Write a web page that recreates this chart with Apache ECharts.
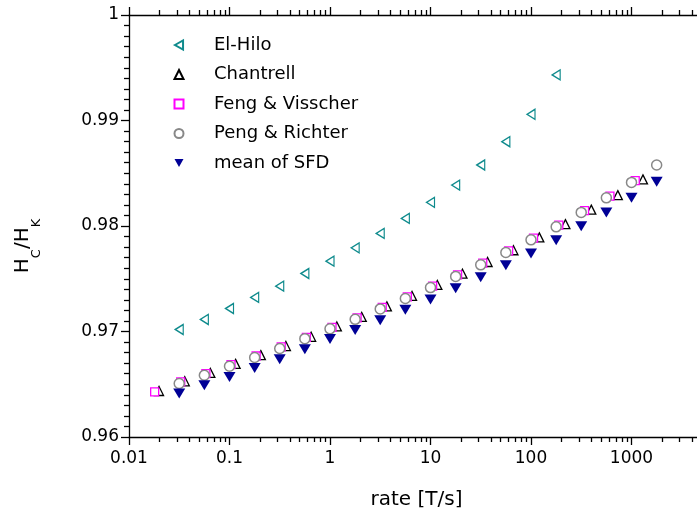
<!DOCTYPE html>
<html>
<head>
<meta charset="utf-8">
<script src="https://cdn.jsdelivr.net/npm/echarts@6/dist/echarts.min.js"></script>
<style>
  html, body { margin: 0; padding: 0; background: #fff; }
  #chart { width: 697px; height: 519px; }
</style>
</head>
<body>
<div id="chart"></div>
<script>
// ---- data: coercivity ratio Hc/Hk versus field sweep rate ----
const elHiloRate = [0.0316, 0.0562, 0.1, 0.178, 0.316, 0.562, 1, 1.78, 3.16, 5.62,
                    10, 17.8, 31.6, 56.2, 100, 178];
const elHiloHc   = [0.97019, 0.97114, 0.97218, 0.97323, 0.97430, 0.97550, 0.97667, 0.97793,
                    0.97930, 0.98072, 0.98224, 0.98388, 0.98578, 0.98799, 0.99059, 0.99432];

const chantrellRate = [0.0199, 0.0359, 0.0645, 0.115, 0.205, 0.364, 0.649, 1.17, 2.07, 3.68,
                       6.55, 11.7, 20.8, 37.0, 66.9, 121, 220, 398, 731, 1300];
const chantrellHc   = [0.96436, 0.96528, 0.96607, 0.96693, 0.96776, 0.96862, 0.96950, 0.97048,
                       0.97138, 0.97238, 0.97337, 0.97441, 0.97548, 0.97659, 0.97770, 0.97892,
                       0.98018, 0.98155, 0.98293, 0.98442];

const fengRate = [0.0180, 0.0327, 0.0582, 0.1035, 0.184, 0.327, 0.582, 1.047, 1.86, 3.31,
                  5.88, 10.5, 18.6, 33.1, 59.9, 106, 189, 341, 610, 1089];
const fengHc   = [0.96427, 0.96522, 0.96600, 0.96686, 0.96768, 0.96854, 0.96945, 0.97040,
                  0.97130, 0.97229, 0.97328, 0.97431, 0.97537, 0.97648, 0.97765, 0.97885,
                  0.98009, 0.98146, 0.98284, 0.98430];

const pengRate = [0.0316, 0.0562, 0.1, 0.178, 0.316, 0.562, 1, 1.78, 3.16, 5.62,
                  10, 17.8, 31.6, 56.2, 100, 178, 316, 562, 1000, 1780];
const pengHc   = [0.96507, 0.96585, 0.96671, 0.96753, 0.96839, 0.96932, 0.97025, 0.97115,
                  0.97214, 0.97313, 0.97416, 0.97522, 0.97632, 0.97749, 0.97869, 0.97992,
                  0.98129, 0.98267, 0.98413, 0.98578];

const sfdRate = [0.0316, 0.0562, 0.1, 0.178, 0.316, 0.562, 1, 1.78, 3.16, 5.62,
                 10, 17.8, 31.6, 56.2, 100, 178, 316, 562, 1000, 1780];
const sfdHc   = [0.96412, 0.96490, 0.96569, 0.96655, 0.96737, 0.96832, 0.96930, 0.97015,
                 0.97107, 0.97205, 0.97304, 0.97409, 0.97515, 0.97629, 0.97740, 0.97866,
                 0.97997, 0.98129, 0.98267, 0.98419];

const seriesNames = ['El-Hilo', 'Chantrell', 'Feng & Visscher', 'Peng & Richter', 'mean of SFD'];

// axis ticks
const xDecades = [0.01, 0.1, 1, 10, 100, 1000, 10000];
const yTicks = [0.96, 0.97, 0.98, 0.99, 1];

// ---- styling ----
const FONT = 'DejaVu Sans';
const INK = '#000';
const LW = 1.3;

function pairs(xs, ys) { return xs.map((x, i) => [x, ys[i]]); }

// minor tick positions (2..9 within each decade), expressed in log10 space
const logMin = Math.log10(xDecades[0]);
const logMax = Math.log10(xDecades[xDecades.length - 1]);
const minorX = [];
for (let i = 0; i < xDecades.length - 1; i++) {
  for (let m = 2; m <= 9; m++) minorX.push(Math.log10(m * xDecades[i]));
}

const lineStyle = { color: INK, width: LW };

const logAxis = {
  type: 'log', logBase: 10,
  min: xDecades[0], max: xDecades[xDecades.length - 1], splitNumber: 6,
  axisLine: { show: true, onZero: false, lineStyle },
  axisTick: { show: true, length: 8, lineStyle },
  splitLine: { show: false }
};
const minorAxis = {
  type: 'value', min: logMin, max: logMax,
  axisLine: { show: false, onZero: false },
  axisTick: { show: true, length: 5, customValues: minorX, lineStyle },
  axisLabel: { show: false },
  splitLine: { show: false }
};

// legend glyphs for the rotated triangles
const ICON_LEFT = 'path://M0,5L9,0L9,10Z';
const ICON_DOWN = 'path://M0,0L10,0L5,9Z';

const chart = echarts.init(document.getElementById('chart'), null, { renderer: 'canvas' });

chart.setOption({
  animation: false,
  backgroundColor: '#fff',
  grid: { left: 129, top: 15, bottom: 82, right: -35, containLabel: false, outerBoundsMode: 'none' },
  legend: {
    orient: 'vertical', left: 173.5, top: 35, padding: 0,
    itemWidth: 9, itemHeight: 9, itemGap: 9.5,
    selectedMode: false,
    data: [
      { name: seriesNames[0], icon: ICON_LEFT },
      { name: seriesNames[1] },
      { name: seriesNames[2] },
      { name: seriesNames[3] },
      { name: seriesNames[4], icon: ICON_DOWN }
    ],
    textStyle: { fontFamily: FONT, fontSize: 18, color: INK, lineHeight: 20, padding: [0, 0, 0, 25.5] }
  },
  xAxis: [
    Object.assign({}, logAxis, {
      position: 'bottom',
      axisLabel: {
        show: true, fontFamily: FONT, fontSize: 17, color: INK, margin: 13,
        formatter: v => String(+Number(v).toPrecision(6))
      },
      name: 'rate [T/s]', nameLocation: 'middle', nameGap: 53,
      nameTextStyle: { fontFamily: FONT, fontSize: 20, color: INK, padding: [0, 28, 0, 0] }
    }),
    Object.assign({}, minorAxis, { position: 'bottom' }),
    Object.assign({}, logAxis, { position: 'top', axisLabel: { show: false } }),
    Object.assign({}, minorAxis, { position: 'top' })
  ],
  yAxis: {
    type: 'value', position: 'left',
    min: yTicks[0], max: yTicks[yTicks.length - 1], interval: 0.01,
    axisLine: { show: true, onZero: false, lineStyle },
    axisTick: { show: true, length: 8, lineStyle },
    minorTick: { show: true, splitNumber: 10, length: 5, lineStyle },
    splitLine: { show: false },
    minorSplitLine: { show: false },
    axisLabel: { fontFamily: FONT, fontSize: 17, color: INK, margin: 10 },
    name: '{m|H}{s|C}{m|/H}{s|K}', nameLocation: 'middle', nameGap: 68,
    nameTextStyle: {
      fontFamily: FONT, fontSize: 20, color: INK, padding: [0, 40, 0, 0],
      rich: {
        m: { fontFamily: FONT, fontSize: 20, lineHeight: 20, verticalAlign: 'top', color: INK },
        s: { fontFamily: FONT, fontSize: 13, lineHeight: 48, color: INK }
      }
    }
  },
  series: [
    {
      name: seriesNames[0], type: 'scatter', data: pairs(elHiloRate, elHiloHc),
      symbol: 'triangle', symbolRotate: 90, symbolSize: [10, 8],
      itemStyle: { color: '#fff', borderColor: '#0f8b8d', borderWidth: LW, opacity: 1 }
    },
    {
      name: seriesNames[1], type: 'scatter', data: pairs(chantrellRate, chantrellHc),
      symbol: 'triangle', symbolSize: [9, 9],
      itemStyle: { color: '#fff', borderColor: '#000', borderWidth: LW, opacity: 1 }
    },
    {
      name: seriesNames[2], type: 'scatter', data: pairs(fengRate, fengHc),
      symbol: 'rect', symbolSize: 8,
      itemStyle: { color: '#fff', borderColor: '#ff00ff', borderWidth: LW, opacity: 1 }
    },
    {
      name: seriesNames[3], type: 'scatter', data: pairs(pengRate, pengHc),
      symbol: 'circle', symbolSize: 10,
      itemStyle: { color: '#fff', borderColor: '#888', borderWidth: LW + 0.2, opacity: 1 }
    },
    {
      name: seriesNames[4], type: 'scatter', data: pairs(sfdRate, sfdHc),
      symbol: 'triangle', symbolRotate: 180, symbolSize: [12, 10],
      itemStyle: { color: '#000096', opacity: 1 }
    }
  ]
});
</script>
</body>
</html>
